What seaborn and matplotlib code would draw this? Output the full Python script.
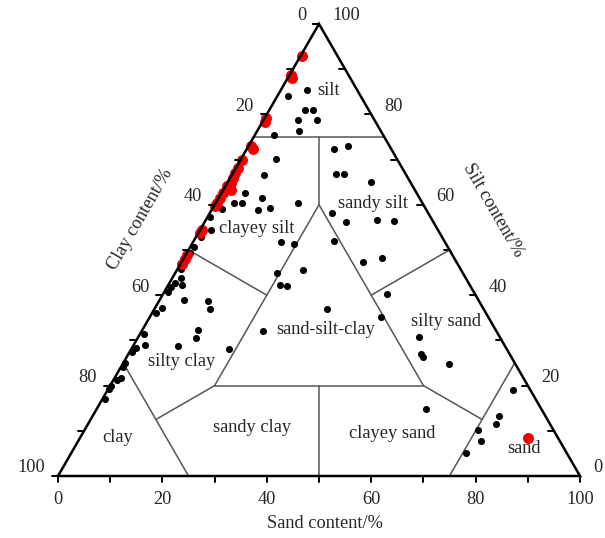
import numpy as np
import pandas as pd
import matplotlib
matplotlib.use("Agg")
import matplotlib.pyplot as plt
import seaborn as sns

# ---------------- data (percent) ----------------
# red samples
red_sand = [0.2, 0.2, 0.7, 0.3, 0.4, 0.5, 1.3, 0.2, 0.4, 0.4, 0.6, 0.6, 0.2, 1.5,
            0.3, 0.3, 0.2, 0.2, 0.3, 0.3, 0.2, 0.3, 0.3, 85.9]
red_silt = [92.9, 88.7, 88.1, 79.1, 78.4, 73.1, 72.3, 70.0, 68.2, 67.1, 65.9, 64.9,
            64.2, 63.2, 62.6, 61.6, 60.5, 59.7, 54.5, 53.8, 48.9, 47.9, 46.9, 8.3]
red_clay = [6.9, 11.1, 11.2, 20.6, 21.2, 26.4, 26.4, 29.8, 31.4, 32.5, 33.5, 34.5,
            35.6, 35.3, 37.1, 38.1, 39.3, 40.1, 45.2, 45.9, 50.9, 51.8, 52.8, 5.8]

# black samples
blk_sand = [5.0, 2.1, 6.9, 8.3, 6.6, 10.3, 8.0, 3.7, 6.6, 6.2, 4.6, 8.2, 3.6, 5.1,
            2.0, 8.9, 10.9, 15.8, 16.8, 19.6, 0.5, 2.1, 1.0, 0.7, 0.6, 0.7, 1.6, 1.0,
            0.8, 0.8, 2.7, 4.7, 9.3, 10.6, 1.3, 0.8, 10.7, 11.2, 0.8, 2.1, 0.8, 0.4,
            8.5, 18.7, 0.3, 0.3, 1.3, 0.7, 0.3, 0.2, 0.5, 16.8, 19.1, 19.9, 21.5,
            27.4, 23.3, 27.0, 32.8, 36.3, 34.8, 38.0, 26.9, 24.1, 19.5, 21.4, 22.8,
            33.0, 23.3, 42.9, 44.2, 53.8, 56.1, 56.7, 62.6, 63.1, 77.7, 77.9, 78.3,
            75.5, 77.2, 75.6]
blk_silt = [85.4, 84.0, 80.9, 81.0, 78.8, 78.7, 76.4, 75.4, 70.2, 66.6, 62.6, 61.6,
            60.3, 60.3, 59.0, 58.8, 59.3, 60.5, 51.7, 51.4, 57.3, 54.4, 52.8, 50.7,
            49.4, 45.7, 43.9, 42.8, 41.8, 40.6, 42.3, 38.9, 38.7, 37.0, 37.1, 36.1,
            32.2, 30.5, 31.4, 29.0, 28.4, 27.5, 28.8, 28.1, 25.1, 24.2, 21.7, 21.2,
            19.8, 19.3, 17.0, 72.3, 72.9, 66.7, 66.7, 65.0, 58.2, 56.2, 56.6, 56.3,
            47.4, 48.2, 51.9, 45.5, 44.9, 42.2, 42.0, 36.9, 32.0, 40.2, 35.2, 30.8,
            26.9, 26.3, 24.7, 14.8, 19.1, 13.2, 11.4, 10.1, 7.7, 5.1]
blk_clay = [9.6, 13.9, 12.2, 10.7, 14.6, 11.0, 15.6, 20.9, 23.2, 27.2, 32.8, 30.2,
            36.1, 34.6, 39.0, 32.3, 29.8, 23.7, 31.5, 29.0, 42.2, 43.5, 46.2, 48.6,
            50.0, 53.6, 54.5, 56.2, 57.4, 58.6, 55.0, 56.4, 52.0, 52.4, 61.6, 63.1,
            57.1, 58.3, 67.8, 68.9, 70.8, 72.1, 62.7, 53.2, 74.6, 75.5, 77.0, 78.1,
            79.9, 80.5, 82.5, 10.9, 8.0, 13.4, 11.8, 7.6, 18.5, 16.8, 10.6, 7.4,
            17.8, 13.8, 21.2, 30.4, 35.6, 36.4, 35.2, 30.1, 44.7, 16.9, 20.6, 15.4,
            17.0, 17.0, 12.7, 22.1, 3.2, 8.9, 10.3, 14.4, 15.1, 19.3]

tick_values = list(range(0, 101, 10))
label_values = list(range(0, 101, 20))

# Shepard classification boundaries, (sand, silt) end points
bound_start = [(0, 75), (12.5, 75), (20, 60), (20, 20), (60, 20), (0, 50), (50, 50),
               (40, 20), (0, 25), (20, 20), (75, 25), (60, 20)]
bound_end = [(25, 75), (20, 60), (20, 20), (60, 20), (20, 60), (20, 40), (40, 40),
             (50, 0), (25, 0), (12.5, 12.5), (75, 0), (75, 12.5)]

region_names = ["silt", "sandy silt", "clayey silt", "sand-silt-clay", "silty sand",
                "silty clay", "clay", "sandy clay", "clayey sand", "sand"]
region_x = [51.8, 60.4, 38.1, 51.2, 74.3, 23.6, 11.5, 37.2, 64.0, 89.3]
region_y = [73.8, 52.2, 47.4, 28.0, 29.6, 21.9, 7.3, 9.2, 8.2, 5.2]

# ---------------- helpers ----------------
H = np.sqrt(3) / 2


def tern(sand, silt, clay):
    sand = np.asarray(sand, float)
    silt = np.asarray(silt, float)
    clay = np.asarray(clay, float)
    tot = sand + silt + clay
    sand, silt = sand / tot * 100, silt / tot * 100
    return sand + silt / 2, silt * H


bx, by = tern(blk_sand, blk_silt, blk_clay)
rx, ry = tern(red_sand, red_silt, red_clay)
df = pd.concat([
    pd.DataFrame({"x": bx, "y": by, "grp": "black"}),
    pd.DataFrame({"x": rx, "y": ry, "grp": "red"}),
], ignore_index=True)

sns.set_theme(style="white")
plt.rcParams['font.family'] = ['Liberation Serif', 'DejaVu Serif']
FS = 13.2

fig = plt.figure(figsize=(6.05, 5.38), dpi=100)
ax = fig.add_axes([0, 0, 1, 1])
PX = 5.22  # pixels per unit
ax.set_xlim(-58 / PX, 547 / PX)
ax.set_ylim(-62 / PX, 476 / PX)
ax.axis('off')

# boundaries
for (s0, t0), (s1, t1) in zip(bound_start, bound_end):
    x0, y0 = s0 + t0 / 2, t0 * H
    x1, y1 = s1 + t1 / 2, t1 * H
    ax.plot([x0, x1], [y0, y1], color='#555555', lw=1.1, zorder=2)

# points
sns.scatterplot(data=df[df.grp == "black"], x="x", y="y", ax=ax, color='black',
                s=26, linewidth=0, zorder=3, legend=False)
sns.scatterplot(data=df[df.grp == "red"], x="x", y="y", ax=ax, color='#f00000',
                s=62, linewidth=0, zorder=4, legend=False)

# outer triangle
ax.plot([0, 100, 50, 0], [0, 0, 100 * H, 0],
        color='black', lw=1.8, zorder=5, solid_joinstyle='miter')

tl = 6 / PX
for v in tick_values:
    # bottom (sand)
    ax.plot([v, v], [0, -tl], color='black', lw=1.4, zorder=5)
    # left (clay)
    xl, yl = (100 - v) / 2, (100 - v) * H
    ax.plot([xl, xl - tl], [yl, yl], color='black', lw=1.4, zorder=5)
    # right (silt)
    xr, yr = 100 - v / 2, v * H
    ax.plot([xr, xr - tl], [yr, yr], color='black', lw=1.4, zorder=5)

for v in label_values:
    ax.text(v, -24 / PX, str(v), ha='center', va='center', fontsize=FS)
    xl, yl = (100 - v) / 2, (100 - v) * H
    ax.text(xl - 13 / PX, yl + 8 / PX, str(v), ha='right', va='center', fontsize=FS)
    xr, yr = 100 - v / 2, v * H
    ax.text(xr + 13 / PX, yr + 8 / PX, str(v), ha='left', va='center', fontsize=FS)

ax.text(51.2, -47 / PX, "Sand content/%", ha='center', va='center', fontsize=FS)
ax.text(15.7, 49.2, "Clay content/%", ha='center', va='center', fontsize=FS,
        rotation=60, rotation_mode='anchor')
ax.text(83.3, 51.0, "Silt content/%", ha='center', va='center', fontsize=FS,
        rotation=-60, rotation_mode='anchor')

for name, x, y in zip(region_names, region_x, region_y):
    ax.text(x, y, name, ha='center', va='center', fontsize=FS, zorder=6)

fig.savefig("out.png", dpi=100)
